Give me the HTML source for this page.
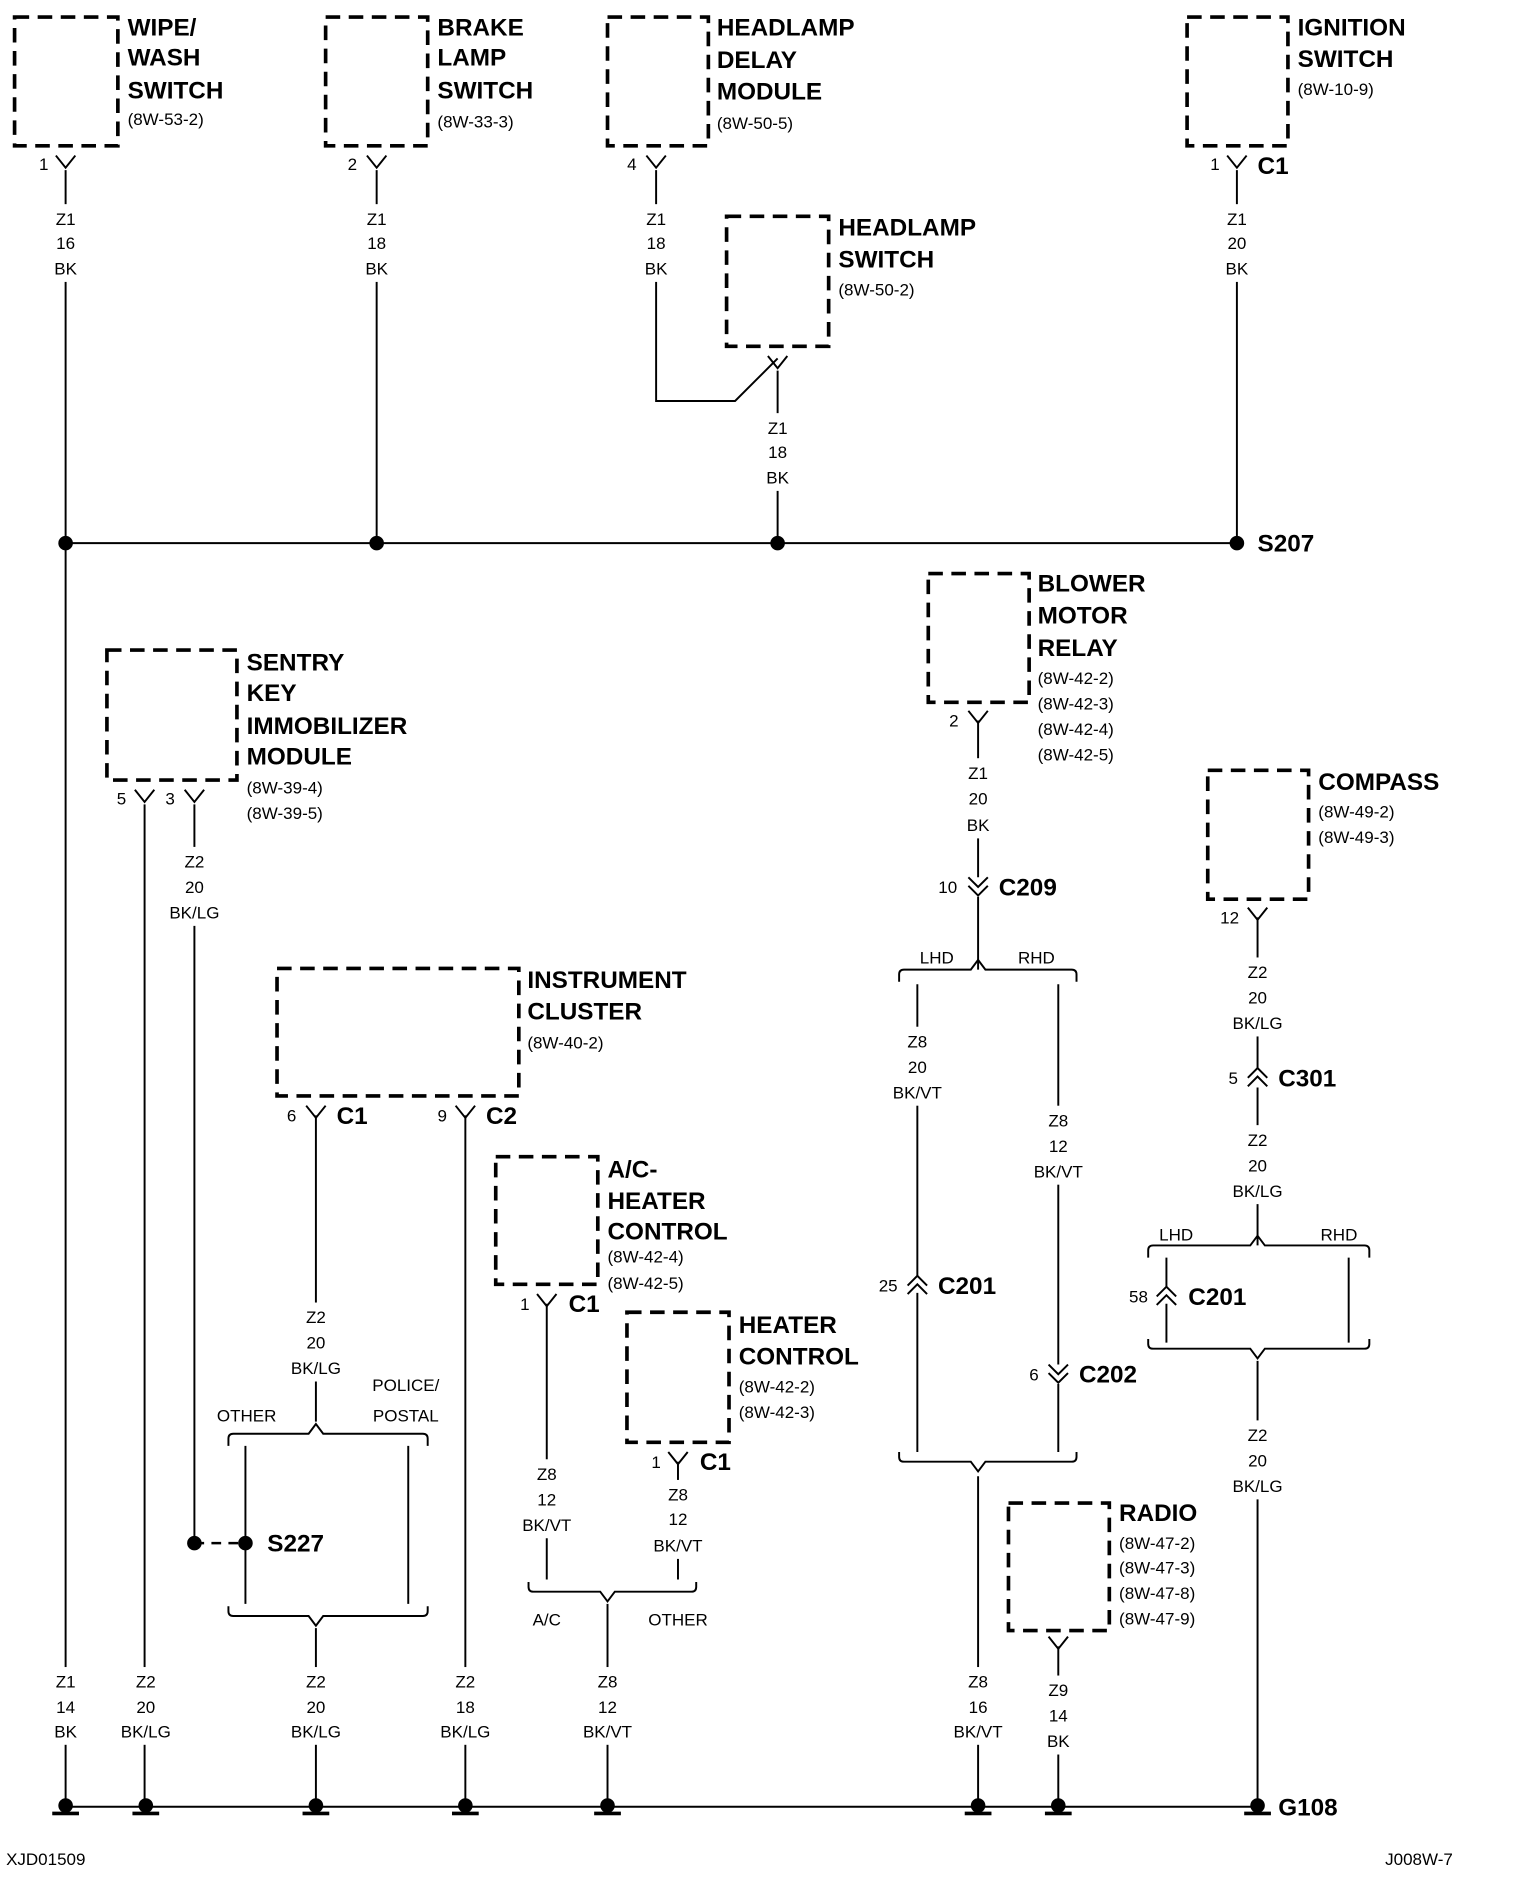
<!DOCTYPE html>
<html><head><meta charset="utf-8"><style>
html,body{margin:0;padding:0;background:#fff;}
svg{display:block}
.h{font-family:"Liberation Sans",sans-serif;font-weight:bold;font-size:20px;fill:#000}
.s{font-family:"Liberation Sans",sans-serif;font-size:14px;fill:#000}
.c{font-family:"Liberation Sans",sans-serif;font-size:14px;fill:#000;text-anchor:middle}
.b{fill:none;stroke:#000;stroke-width:3;stroke-dasharray:12,7}
.w{fill:none;stroke:#000;stroke-width:1.6}
</style></head><body>
<svg width="1520" height="1904" viewBox="0 0 1251 1567" xmlns="http://www.w3.org/2000/svg">
<!-- boxes -->
<rect class="b" x="12" y="14" width="85" height="106"/>
<rect class="b" x="268" y="14" width="84" height="106"/>
<rect class="b" x="500" y="14" width="83" height="106"/>
<rect class="b" x="598" y="178" width="84" height="107"/>
<rect class="b" x="977" y="14" width="83" height="106"/>
<rect class="b" x="88" y="535" width="107" height="107"/>
<rect class="b" x="764" y="472" width="83" height="106"/>
<rect class="b" x="994" y="634" width="83" height="106"/>
<rect class="b" x="228" y="797" width="199" height="105"/>
<rect class="b" x="408" y="952" width="84" height="105"/>
<rect class="b" x="516" y="1080" width="84" height="107"/>
<rect class="b" x="830" y="1237" width="83" height="105"/>

<!-- wires -->
<g class="w">
<path d="M54 140V1485M310 140V447M540 140V330H605L640 295M640 305V447M1018 140V447M54 447H1018"/>
<path d="M119 662V1485M160 662V1270M260 918V1170M383 918V1485M450 1073V1300M558 1203V1300M500 1320V1485"/>
<path d="M805 593V722M805 738V798M755 810V1050M755 1064V1195M871 810V1123M871 1139V1195M805 1215V1485M871 1355V1485"/>
<path d="M1035 755V879M1035 895V1025M960 1035V1059M960 1073V1105M1110 1035V1105M1035 1120V1485"/>
<path d="M202 1190V1320M336 1190V1320M260 1340V1485M54 1487H1035"/>
<path d="M188 1190V1184Q188 1180 192 1180H254L260 1172L266 1180H348Q352 1180 352 1184V1190"/>
<path d="M188 1322V1326Q188 1330 192 1330H254L260 1338L266 1330H348Q352 1330 352 1326V1322"/>
<path d="M435 1302V1306Q435 1310 439 1310H494L500 1318L506 1310H569Q573 1310 573 1306V1302"/>
<path d="M740 808V802Q740 798 744 798H799L805 790L811 798H882Q886 798 886 802V808"/>
<path d="M740 1195V1199Q740 1203 744 1203H799L805 1211L811 1203H882Q886 1203 886 1199V1195"/>
<path d="M945 1035V1029Q945 1025 949 1025H1029L1035 1017L1041 1025H1123Q1127 1025 1127 1029V1035"/>
<path d="M945 1102V1106Q945 1110 949 1110H1029L1035 1118L1041 1110H1123Q1127 1110 1127 1106V1102"/>
<path d="M46 128L54 138L62 128M302 128L310 138L318 128M532 128L540 138L548 128M1010 128L1018 138L1026 128"/>
<path d="M632 293L640 303L648 293"/>
<path d="M111 650L119 660L127 650M152 650L160 660L168 650M797 585L805 595L813 585M1027 747L1035 757L1043 747"/>
<path d="M252 910L260 920L268 910M375 910L383 920L391 910M442 1065L450 1075L458 1065M550 1195L558 1205L566 1195M863 1347L871 1357L879 1347"/>
<path d="M797 722L805 730L813 722M797 729L805 737L813 729"/>
<path d="M747 1058L755 1050L763 1058M747 1065L755 1057L763 1065"/>
<path d="M863 1123L871 1131L879 1123M863 1130L871 1138L879 1130"/>
<path d="M1027 887L1035 879L1043 887M1027 894L1035 886L1043 894"/>
<path d="M952 1067L960 1059L968 1067M952 1074L960 1066L968 1074"/>
<path d="M160 1270H202" stroke-dasharray="8,6" stroke-width="2"/>
</g>

<!-- white gaps behind wire labels -->
<g fill="#fff">
<rect x="32" y="168" width="44" height="64"/><rect x="288" y="168" width="44" height="64"/><rect x="518" y="168" width="44" height="64"/><rect x="996" y="168" width="44" height="64"/>
<rect x="618" y="340" width="44" height="64"/>
<rect x="136" y="697" width="48" height="65"/>
<rect x="783" y="624" width="44" height="66"/>
<rect x="1011" y="788" width="48" height="65"/><rect x="1011" y="926" width="48" height="65"/><rect x="1011" y="1169" width="48" height="65"/>
<rect x="731" y="845" width="48" height="65"/><rect x="847" y="910" width="48" height="65"/>
<rect x="236" y="1072" width="48" height="65"/>
<rect x="426" y="1201" width="48" height="65"/><rect x="534" y="1218" width="48" height="65"/>
<rect x="849" y="1379" width="44" height="65"/>
<rect x="32" y="1372" width="44" height="64"/><rect x="96" y="1372" width="48" height="64"/><rect x="236" y="1372" width="48" height="64"/><rect x="359" y="1372" width="48" height="64"/><rect x="476" y="1372" width="48" height="64"/><rect x="781" y="1372" width="48" height="64"/>
</g>

<!-- headings -->
<g class="h">
<text x="105" y="29">WIPE/</text><text x="105" y="54">WASH</text><text x="105" y="81">SWITCH</text>
<text x="360" y="29">BRAKE</text><text x="360" y="54">LAMP</text><text x="360" y="81">SWITCH</text>
<text x="590" y="29">HEADLAMP</text><text x="590" y="56">DELAY</text><text x="590" y="82">MODULE</text>
<text x="690" y="194">HEADLAMP</text><text x="690" y="220">SWITCH</text>
<text x="1068" y="29">IGNITION</text><text x="1068" y="55">SWITCH</text>
<text x="203" y="552">SENTRY</text><text x="203" y="577">KEY</text><text x="203" y="604">IMMOBILIZER</text><text x="203" y="629">MODULE</text>
<text x="854" y="487">BLOWER</text><text x="854" y="513">MOTOR</text><text x="854" y="540">RELAY</text>
<text x="1085" y="650">COMPASS</text>
<text x="434" y="813">INSTRUMENT</text><text x="434" y="839">CLUSTER</text>
<text x="500" y="969">A/C-</text><text x="500" y="995">HEATER</text><text x="500" y="1020">CONTROL</text>
<text x="608" y="1097">HEATER</text><text x="608" y="1123">CONTROL</text>
<text x="921" y="1252">RADIO</text>
<text x="1035" y="454">S207</text><text x="220" y="1277">S227</text><text x="1052" y="1494">G108</text>
<text x="1035" y="143">C1</text><text x="277" y="925">C1</text><text x="400" y="925">C2</text>
<text x="468" y="1080">C1</text><text x="576" y="1210">C1</text>
<text x="822" y="737">C209</text><text x="772" y="1065">C201</text><text x="888" y="1138">C202</text>
<text x="1052" y="894">C301</text><text x="978" y="1074">C201</text>
</g>
<g class="s">
<text x="105" y="103">(8W-53-2)</text><text x="360" y="105">(8W-33-3)</text><text x="590" y="106">(8W-50-5)</text>
<text x="690" y="243">(8W-50-2)</text><text x="1068" y="78">(8W-10-9)</text>
<text x="203" y="653">(8W-39-4)</text><text x="203" y="674">(8W-39-5)</text>
<text x="854" y="563">(8W-42-2)</text><text x="854" y="584">(8W-42-3)</text><text x="854" y="605">(8W-42-4)</text><text x="854" y="626">(8W-42-5)</text>
<text x="1085" y="673">(8W-49-2)</text><text x="1085" y="694">(8W-49-3)</text>
<text x="434" y="863">(8W-40-2)</text>
<text x="500" y="1039">(8W-42-4)</text><text x="500" y="1061">(8W-42-5)</text>
<text x="608" y="1146">(8W-42-2)</text><text x="608" y="1167">(8W-42-3)</text>
<text x="921" y="1275">(8W-47-2)</text><text x="921" y="1295">(8W-47-3)</text><text x="921" y="1316">(8W-47-8)</text><text x="921" y="1337">(8W-47-9)</text>
<text x="5" y="1535">XJD01509</text><text x="1140" y="1535">J008W-7</text>
</g>
<g class="c">
<text x="36" y="140">1</text><text x="290" y="140">2</text><text x="520" y="140">4</text><text x="1000" y="140">1</text>
<text x="100" y="662">5</text><text x="140" y="662">3</text><text x="785" y="598">2</text><text x="1012" y="760">12</text>
<text x="240" y="923">6</text><text x="364" y="923">9</text><text x="432" y="1078">1</text><text x="540" y="1208">1</text>
<text x="780" y="735">10</text><text x="731" y="1063">25</text><text x="851" y="1136">6</text><text x="1015" y="892">5</text><text x="937" y="1072">58</text>
<text x="54" y="185">Z1</text><text x="54" y="205">16</text><text x="54" y="226">BK</text>
<text x="310" y="185">Z1</text><text x="310" y="205">18</text><text x="310" y="226">BK</text>
<text x="540" y="185">Z1</text><text x="540" y="205">18</text><text x="540" y="226">BK</text>
<text x="1018" y="185">Z1</text><text x="1018" y="205">20</text><text x="1018" y="226">BK</text>
<text x="640" y="357">Z1</text><text x="640" y="377">18</text><text x="640" y="398">BK</text>
<text x="160" y="714">Z2</text><text x="160" y="735">20</text><text x="160" y="756">BK/LG</text>
<text x="805" y="641">Z1</text><text x="805" y="662">20</text><text x="805" y="684">BK</text>
<text x="1035" y="805">Z2</text><text x="1035" y="826">20</text><text x="1035" y="847">BK/LG</text>
<text x="1035" y="943">Z2</text><text x="1035" y="964">20</text><text x="1035" y="985">BK/LG</text>
<text x="771" y="793">LHD</text><text x="853" y="793">RHD</text>
<text x="968" y="1021">LHD</text><text x="1102" y="1021">RHD</text>
<text x="755" y="862">Z8</text><text x="755" y="883">20</text><text x="755" y="904">BK/VT</text>
<text x="871" y="927">Z8</text><text x="871" y="948">12</text><text x="871" y="969">BK/VT</text>
<text x="1035" y="1186">Z2</text><text x="1035" y="1207">20</text><text x="1035" y="1228">BK/LG</text>
<text x="260" y="1089">Z2</text><text x="260" y="1110">20</text><text x="260" y="1131">BK/LG</text>
<text x="203" y="1170">OTHER</text><text x="334" y="1145">POLICE/</text><text x="334" y="1170">POSTAL</text>
<text x="450" y="1218">Z8</text><text x="450" y="1239">12</text><text x="450" y="1260">BK/VT</text>
<text x="558" y="1235">Z8</text><text x="558" y="1255">12</text><text x="558" y="1277">BK/VT</text>
<text x="450" y="1338">A/C</text><text x="558" y="1338">OTHER</text>
<text x="871" y="1396">Z9</text><text x="871" y="1417">14</text><text x="871" y="1438">BK</text>
<text x="54" y="1389">Z1</text><text x="54" y="1410">14</text><text x="54" y="1430">BK</text>
<text x="120" y="1389">Z2</text><text x="120" y="1410">20</text><text x="120" y="1430">BK/LG</text>
<text x="260" y="1389">Z2</text><text x="260" y="1410">20</text><text x="260" y="1430">BK/LG</text>
<text x="383" y="1389">Z2</text><text x="383" y="1410">18</text><text x="383" y="1430">BK/LG</text>
<text x="500" y="1389">Z8</text><text x="500" y="1410">12</text><text x="500" y="1430">BK/VT</text>
<text x="805" y="1389">Z8</text><text x="805" y="1410">16</text><text x="805" y="1430">BK/VT</text>
</g>
<g fill="#000">
<circle cx="54" cy="447" r="6"/><circle cx="310" cy="447" r="6"/><circle cx="640" cy="447" r="6"/><circle cx="1018" cy="447" r="6"/>
<circle cx="160" cy="1270" r="6"/><circle cx="202" cy="1270" r="6"/>
<circle cx="54" cy="1486" r="6"/><circle cx="120" cy="1486" r="6"/><circle cx="260" cy="1486" r="6"/><circle cx="383" cy="1486" r="6"/><circle cx="500" cy="1486" r="6"/><circle cx="805" cy="1486" r="6"/><circle cx="871" cy="1486" r="6"/><circle cx="1035" cy="1486" r="6"/>
<rect x="43" y="1491" width="22" height="3"/><rect x="109" y="1491" width="22" height="3"/><rect x="249" y="1491" width="22" height="3"/><rect x="372" y="1491" width="22" height="3"/><rect x="489" y="1491" width="22" height="3"/><rect x="794" y="1491" width="22" height="3"/><rect x="860" y="1491" width="22" height="3"/><rect x="1024" y="1491" width="22" height="3"/>
</g>
</svg>
</body></html>
